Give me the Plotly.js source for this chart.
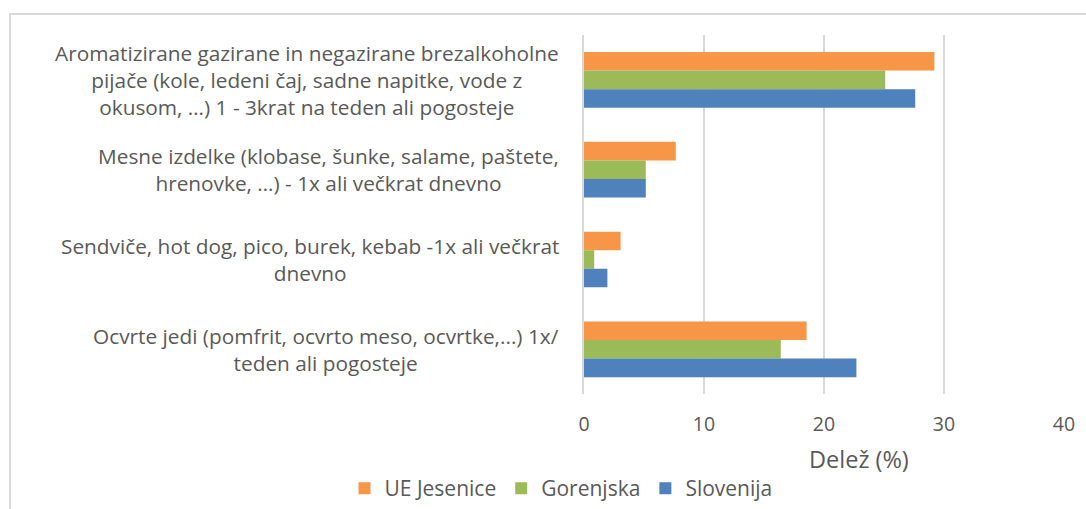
<!DOCTYPE html>
<html>
<head>
<meta charset="utf-8">
<script src="https://cdn.plot.ly/plotly-3.0.1.min.js"></script>
<style>
html,body{margin:0;padding:0;background:#fff;overflow:hidden;}
#wrap{position:relative;width:1086px;height:509px;}
#frame{position:absolute;left:9px;top:13px;width:1200px;height:700px;border:2px solid #d9d9d9;box-sizing:border-box;pointer-events:none;}
#chart{position:absolute;left:0;top:0;width:1086px;height:509px;}
</style>
</head>
<body>
<div id="wrap"><div id="chart"></div><div id="frame"></div></div>
<script>
const categories = [
  "Aromatizirane gazirane in negazirane brezalkoholne<br>pijače (kole, ledeni čaj, sadne napitke, vode z<br>okusom, …) 1 - 3krat na teden ali pogosteje",
  "Mesne izdelke (klobase, šunke, salame, paštete,<br>hrenovke, …) - 1x ali večkrat dnevno",
  "Sendviče, hot dog, pico, burek, kebab -1x ali večkrat<br>dnevno",
  "Ocvrte jedi (pomfrit, ocvrto meso, ocvrtke,...) 1x/<br>teden ali pogosteje"
];
const seriesNames = ["UE Jesenice", "Gorenjska", "Slovenija"];
const ueJesenice = [29.2, 7.65, 3.05, 18.55];
const gorenjska  = [25.1, 5.15, 0.85, 16.4];
const slovenija  = [27.6, 5.15, 1.95, 22.7];
const xTicks = [0, 10, 20, 30, 40];
const xTitle = "Delež (%)";

const colors = ["#F79646", "#9BBB59", "#4F81BD"];
const font = "'Open Sans', Lato, sans-serif";
const txt = "#595959";

// page geometry: plot area spans y 35..395 in a 509px page, margin top 35, bottom 0
const H = 509, T = 35, paperH = H - T;
const py = px => (H - px) / paperH;   // page-pixel y -> paper fraction

const data = [ueJesenice, gorenjska, slovenija].map((vals, i) => ({
  type: "bar", orientation: "h", name: seriesNames[i],
  x: vals, y: categories,
  marker: {color: colors[i], line: {width: 0}},
  hoverinfo: "x+name"
}));

const annotations = categories.map(c => ({
  text: c, xref: "paper", yref: "y", x: -0.05, y: c,
  xanchor: "right", yanchor: "middle", align: "center",
  showarrow: false, borderpad: 0,
  font: {family: font, size: 20.8, color: txt}
}));
// axis title (Excel places it slightly right of the plot centre)
annotations.push({
  text: xTitle, xref: "paper", yref: "paper", x: 0.573, y: py(460),
  xanchor: "center", yanchor: "middle", showarrow: false, borderpad: 0,
  font: {family: font, size: 23.5, color: txt}
});

const layout = {
  width: 1086, height: 509,
  margin: {l: 584, r: 22, t: T, b: 0},
  paper_bgcolor: "#fff", plot_bgcolor: "#fff",
  barmode: "group", bargap: 0.38, bargroupgap: 0,
  font: {family: font, size: 19.5, color: txt},
  xaxis: {
    range: [0, 40], tickvals: xTicks, ticktext: xTicks.map(String),
    showgrid: true, gridcolor: "#d9d9d9", gridwidth: 1.5,
    zeroline: false, showline: false, ticks: "",
    ticklabelstandoff: 16, automargin: false,
    tickfont: {family: font, size: 19.5, color: txt},
    fixedrange: true
  },
  yaxis: {
    type: "category", autorange: "reversed", automargin: false,
    domain: [py(395), 1],
    showticklabels: false, showgrid: false, zeroline: false,
    showline: true, linecolor: "#d9d9d9", linewidth: 2, ticks: "",
    fixedrange: true
  },
  legend: {
    orientation: "h", xref: "paper", xanchor: "center",
    y: py(489), yanchor: "middle",
    font: {family: font, size: 21, color: txt},
    traceorder: "normal", itemwidth: 30
  },
  annotations: annotations,
  showlegend: true
};
// center legend at ~561px in page coordinates
layout.legend.x = (561 - 584) / (1086 - 584 - 22);

Plotly.newPlot("chart", data, layout, {displayModeBar: false, staticPlot: true});
</script>
</body>
</html>
